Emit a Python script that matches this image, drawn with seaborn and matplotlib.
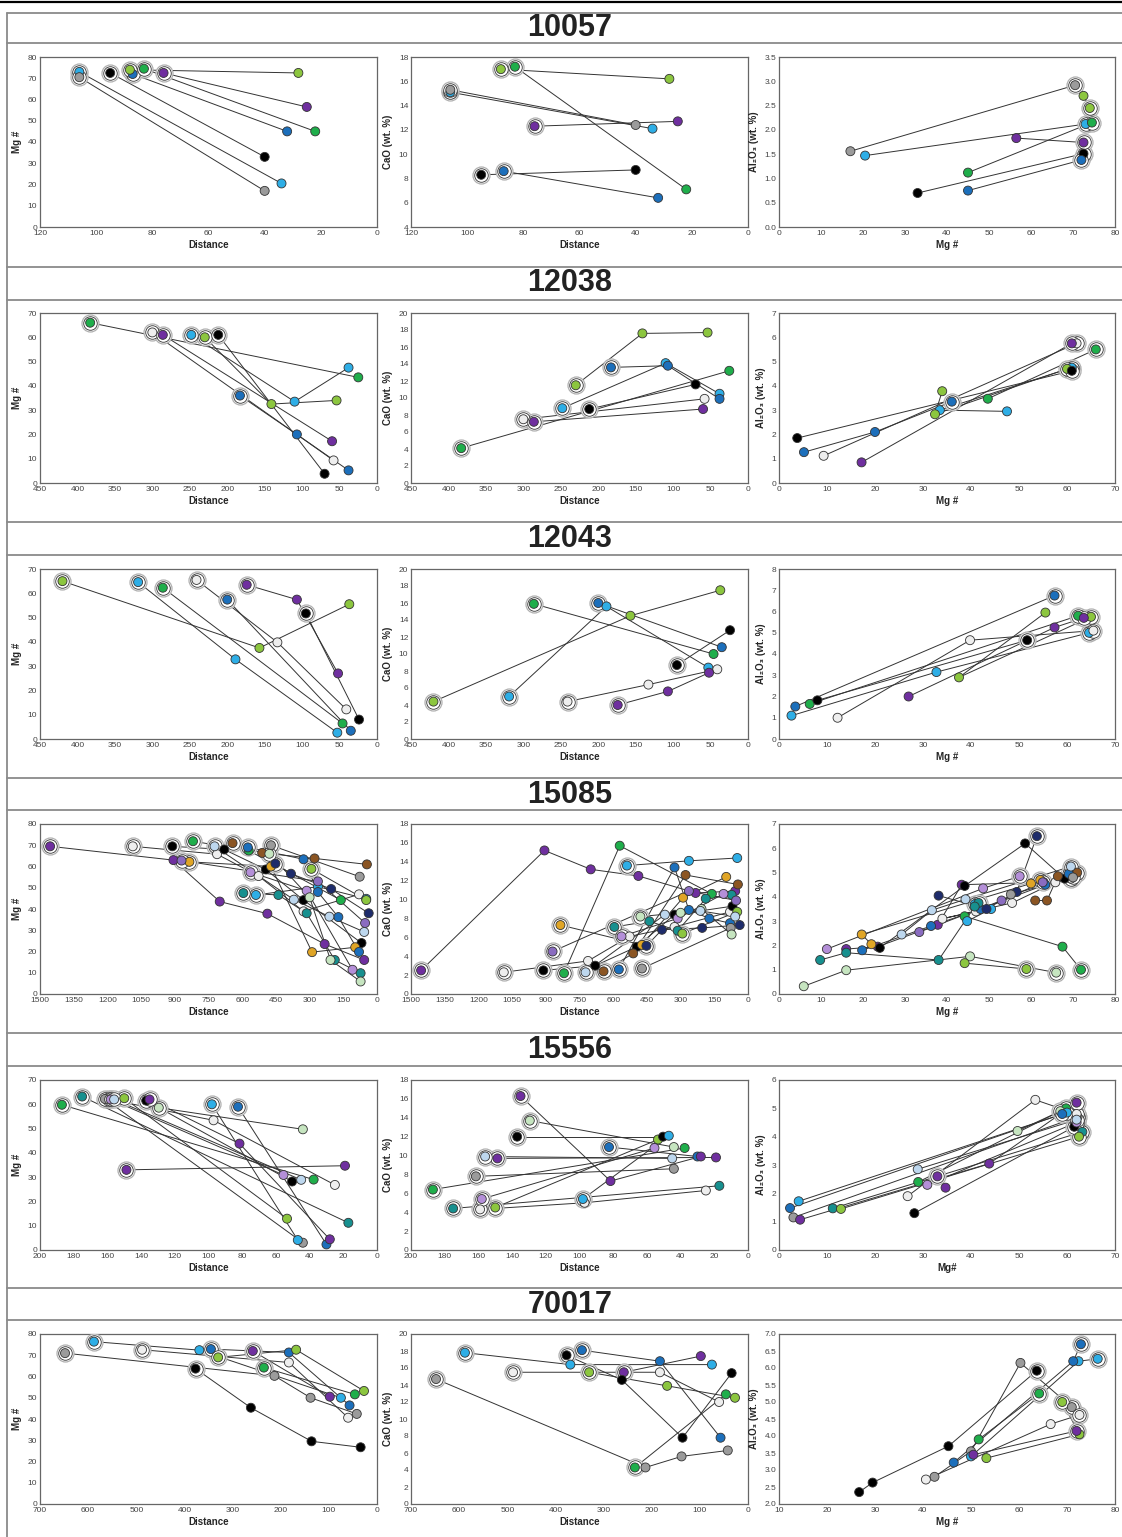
import matplotlib
matplotlib.use("Agg")
import matplotlib.pyplot as plt
from matplotlib.lines import Line2D
from matplotlib.ticker import MultipleLocator, AutoMinorLocator, FormatStrFormatter
import pandas as pd
import seaborn as sns

sns.set_theme(style="white")
plt.rcParams['font.family'] = ['Liberation Sans', 'DejaVu Sans']

PALETTE = {
    'black': '#000000', 'gray': '#9b9b9b', 'white': '#eeeeee',
    'ltblue': '#2eaee6', 'blue': '#1c6fbb', 'green': '#1fae4b',
    'ltgreen': '#8cc63f', 'purple': '#6f2f9f', 'orange': '#e0a526',
    'brown': '#8b5523', 'navy': '#1e2c6b', 'teal': '#17908f',
    'lavender': '#b48fd8', 'mauve': '#8a6cc0', 'paleblue': '#bdd7ee',
    'palegreen': '#c6e5c0',
}

# ---- 10057 : one entry per grain, first point = core ----
S10057_COLOR = ['ltblue', 'gray', 'black', 'blue', 'ltgreen', 'green', 'purple']
S10057_DIST = [[106, 34], [106, 40], [95, 40], [87, 32], [88, 28], [83, 22], [76, 25]]
S10057_MG = [[73, 20.5], [70.5, 17], [72.5, 33], [72, 45], [74, 72.5], [74.5, 45], [72.5, 56.5]]
S10057_CAO = [[15.1, 12.1], [15.3, 12.4], [8.3, 8.7], [8.6, 6.4], [17.0, 16.2], [17.2, 7.1], [12.3, 12.7]]
S10057_AL = [[2.12, 1.47], [2.92, 1.56], [1.51, 0.7], [1.38, 0.75], [2.45, 2.7], [2.15, 1.12], [1.74, 1.83]]

# ---- 12038 ----
S12038_COLOR = ['green', 'white', 'purple', 'ltblue', 'ltgreen', 'black', 'blue']
S12038_DIST = [[383, 25], [300, 58], [286, 60], [248, 110, 38], [230, 141, 54], [212, 70], [183, 107, 38]]
S12038_MG = [[66, 43.5], [62, 9.3], [61, 17.2], [61, 33.5, 47.5], [60, 32.5, 34], [61, 3.8], [36, 20, 5.2]]
S12038_CAO = [[4.1, 13.2], [7.5, 9.9], [7.2, 8.7], [8.8, 14.1, 10.5], [11.5, 17.6, 17.7], [8.7, 11.6], [13.6, 13.8, 9.9]]
S12038_AL = [[5.5, 3.47], [5.75, 1.12], [5.75, 0.85], [4.75, 3.0, 2.95], [4.7, 2.83, 3.78], [4.62, 1.85], [3.35, 2.1, 1.27]]

# ---- 12043 ----
S12043_COLOR = ['ltgreen', 'ltblue', 'green', 'white', 'blue', 'purple', 'black']
S12043_DIST = [[420, 157, 37], [319, 189, 53], [286, 46], [241, 133, 41], [200, 35], [174, 107, 52], [95, 24]]
S12043_MG = [[65, 37.5, 55.5], [64.6, 32.8, 2.6], [62.3, 6.4], [65.5, 39.8, 12.2], [57.4, 3.4], [63.5, 57.4, 27], [51.7, 8]]
S12043_CAO = [[4.4, 14.5, 17.5], [5.0, 15.6, 8.4], [15.9, 10.0], [4.4, 6.4, 8.2], [16.0, 10.8], [4.0, 5.6, 7.8], [8.7, 12.8]]
S12043_AL = [[5.75, 2.9, 5.95], [5.0, 3.15, 1.1], [5.8, 1.65], [5.1, 4.65, 1.0], [6.75, 1.53], [5.7, 5.25, 2.0], [4.65, 1.82]]

# ---- 15085 ----
S15085_COLOR = ['purple', 'white', 'black', 'green', 'ltblue', 'orange', 'brown', 'blue',
                'navy', 'teal', 'lavender', 'mauve', 'gray', 'palegreen', 'ltgreen', 'paleblue']
S15085_DIST = [[1455, 906, 700, 488, 233, 57], [1087, 712, 527, 327, 80], [911, 680, 495, 327, 69],
               [819, 571, 161], [539, 263, 48], [835, 472, 289, 97], [643, 511, 278, 45],
               [575, 327, 263, 172, 80], [452, 383, 204, 37], [595, 439, 313, 188, 73],
               [563, 313, 109], [870, 263, 53], [472, 77], [479, 300, 207, 73], [292, 48],
               [723, 370, 212, 57]]
S15085_MG = [[69.5, 63, 43.5, 37.8, 23.5, 16], [69.5, 65.8, 55.5, 38.9, 46.9], [69.5, 68, 58.6, 44.2, 24],
             [71.9, 67.5, 44.2], [46.6, 50.5, 44.8], [62.2, 60, 19.7, 22], [71, 66.4, 63.8, 61],
             [69, 63.4, 48, 36.2, 19.8], [61.4, 56.6, 49.4, 38], [47.5, 46.6, 38, 16, 9.8],
             [57.3, 48.6, 11.4], [62.8, 53, 33.4], [70, 55.2], [66, 45.5, 16, 5.9], [58.9, 44.2],
             [69.5, 44.4, 36.4, 29.2]]
S15085_CAO = [[2.5, 15.2, 13.2, 12.5, 10.7, 10.9], [2.3, 3.5, 6.1, 7.1, 8.7], [2.5, 3.0, 5.0, 8.4, 9.3],
              [2.2, 15.7, 10.6], [13.6, 14.1, 14.4], [7.3, 5.2, 10.2, 12.4], [2.4, 4.3, 12.6, 11.6],
              [2.6, 13.4, 8.9, 8.0, 7.5], [5.1, 6.8, 7.0, 7.3], [7.1, 7.7, 6.7, 10.1, 10.5],
              [6.1, 8.0, 10.6], [4.5, 10.9, 9.9], [2.7, 7.0], [8.2, 8.6, 9.0, 6.3], [6.4, 8.7],
              [2.3, 8.4, 8.8, 8.2]]
S15085_AL = [[4.8, 4.6, 4.5, 2.85, 1.95, 1.85], [4.75, 4.6, 3.75, 3.1, 3.4], [4.9, 4.75, 6.2, 4.45, 1.9],
             [1.0, 1.95, 3.2], [3.7, 3.5, 3.0], [4.7, 4.55, 2.45, 2.05], [5.0, 4.85, 3.85, 3.85],
             [4.95, 4.5, 3.5, 2.8, 1.8], [6.5, 4.2, 3.5, 4.05], [3.75, 3.6, 1.4, 1.7, 1.4],
             [4.85, 4.35, 1.85], [4.6, 3.85, 2.55], [4.8, 4.1], [0.88, 1.55, 0.98, 0.32], [1.03, 1.27],
             [5.25, 3.9, 3.45, 2.45]]

# ---- 15556 ----
S15556_COLOR = ['green', 'teal', 'gray', 'white', 'ltgreen', 'black', 'palegreen', 'purple',
                'ltblue', 'blue', 'purple', 'lavender', 'paleblue']
S15556_DIST = [[187, 37.6], [175, 17], [161.5, 44], [159, 97, 25], [150, 53.4], [137, 50.4],
               [129.5, 44], [148.7, 19], [98, 47], [82.5, 30], [135, 81.6, 28], [158, 55.5], [156, 45]]
S15556_MG = [[59.8, 29], [63.2, 11.2], [62.2, 3], [62, 53.4, 26.8], [62.5, 12.9], [61.5, 28.2],
             [58.6, 49.7], [33, 34.7], [60, 4.1], [59, 2.3], [62, 43.8, 4.4], [62, 30.9], [62, 28.9]]
S15556_CAO = [[6.4, 10.8], [4.4, 6.8], [7.8, 8.6], [4.3, 5.0, 6.3], [4.5, 11.7], [12.0, 12.0],
              [13.7, 10.9], [9.7, 9.8], [5.4, 12.1], [10.9, 9.9], [16.3, 7.3, 9.9], [5.4, 10.8], [9.9, 9.7]]
S15556_AL = [[5.0, 2.4], [4.17, 1.47], [4.7, 1.15], [4.8, 5.3, 1.9], [4.0, 1.45], [4.35, 1.3],
             [4.9, 4.2], [2.6, 2.2], [4.85, 1.72], [4.8, 1.48], [5.2, 3.05, 1.07], [4.5, 2.3], [4.6, 2.85]]

# ---- 70017 ----
S70017_COLOR = ['gray', 'ltblue', 'white', 'blue', 'ltgreen', 'purple', 'green', 'black']
S70017_DIST = [[648, 213, 138, 42], [588, 369, 75], [488, 183, 60], [345, 183, 57], [330, 168, 27],
               [258, 98], [235, 46], [377, 262, 136, 34]]
S70017_MG = [[71, 60.3, 50, 42.4], [76.4, 72.4, 50], [72.6, 66.6, 40.6], [72.9, 71.3, 46.4],
             [69, 72.6, 53.2], [72, 50.5], [64.2, 51.6], [63.7, 45.3, 29.5, 26.7]]
S70017_CAO = [[14.7, 4.3, 5.6, 6.3], [17.8, 16.4, 16.4], [15.5, 15.5, 12.0], [18.1, 16.8, 7.8],
              [15.5, 13.9, 12.5], [15.5, 17.4], [4.3, 12.9], [17.5, 14.6, 7.8, 15.4]]
S70017_AL = [[4.85, 6.15, 3.55, 2.8], [6.27, 6.2, 3.4], [4.62, 4.35, 2.72], [6.7, 6.2, 3.22],
             [5.0, 4.05, 3.35], [4.15, 3.45], [5.25, 3.9], [5.92, 3.7, 2.63, 2.35]]

SAMPLES = ['10057', '12038', '12043', '15085', '15556', '70017']
SAMPLE_DATA = {
    '10057': (S10057_COLOR, S10057_DIST, S10057_MG, S10057_CAO, S10057_AL),
    '12038': (S12038_COLOR, S12038_DIST, S12038_MG, S12038_CAO, S12038_AL),
    '12043': (S12043_COLOR, S12043_DIST, S12043_MG, S12043_CAO, S12043_AL),
    '15085': (S15085_COLOR, S15085_DIST, S15085_MG, S15085_CAO, S15085_AL),
    '15556': (S15556_COLOR, S15556_DIST, S15556_MG, S15556_CAO, S15556_AL),
    '70017': (S70017_COLOR, S70017_DIST, S70017_MG, S70017_CAO, S70017_AL),
}

# axis settings per sample: (dist max, dist step), (mg lim, step), (cao lim, step), (al lim, step, fmt), (mgx lim, step), mg x-label
AXES = {
    '10057': ((120, 20), (0, 80, 10), (4, 18, 2), (0, 3.5, 0.5, '%.1f'), (0, 80, 10), 'Mg #'),
    '12038': ((450, 50), (0, 70, 10), (0, 20, 2), (0, 7, 1, '%d'), (0, 70, 10), 'Mg #'),
    '12043': ((450, 50), (0, 70, 10), (0, 20, 2), (0, 8, 1, '%d'), (0, 70, 10), 'Mg #'),
    '15085': ((1500, 150), (0, 80, 10), (0, 18, 2), (0, 7, 1, '%d'), (0, 80, 10), 'Mg #'),
    '15556': ((200, 20), (0, 70, 10), (0, 18, 2), (0, 6, 1, '%d'), (0, 70, 10), 'Mg#'),
    '70017': ((700, 100), (0, 80, 10), (0, 20, 2), (2, 7, 0.5, '%.1f'), (10, 80, 10), 'Mg #'),
}

rows = []
for s in SAMPLES:
    cols, dists, mgs, caos, als = SAMPLE_DATA[s]
    for g, c in enumerate(cols):
        for k in range(len(dists[g])):
            rows.append(dict(sample=s, grain=g, step=k, ckey=c, dist=dists[g][k],
                             mg=mgs[g][k], cao=caos[g][k], al=als[g][k], core=(k == 0)))
df = pd.DataFrame(rows)

W, H = 1122, 1537
fig = plt.figure(figsize=(W / 100, H / 100), dpi=100)
fig.patch.set_facecolor('white')

def fx(x):
    return x / W

def fy(y):
    return 1 - y / H

BANDS = [43, 299, 555, 810, 1066, 1320]
TITLE_Y = [28, 283, 539, 795, 1050, 1305]
PANEL_X = [(40, 377), (411, 748), (779, 1115)]
FRAME_GRAY = '#8a8a8a'

# frame and separators
fig.add_artist(Line2D([0, 1], [fy(2), fy(2)], color='black', lw=1.6, transform=fig.transFigure))
for y in [13, 43, 267, 300, 522, 555, 778, 810, 1033, 1066, 1288, 1320]:
    fig.add_artist(Line2D([fx(7), 1], [fy(y), fy(y)], color=FRAME_GRAY, lw=1.3,
                          transform=fig.transFigure))
fig.add_artist(Line2D([fx(7), fx(7)], [fy(13), 0], color=FRAME_GRAY, lw=1.3,
                      transform=fig.transFigure))


def style_axis(ax):
    for sp in ax.spines.values():
        sp.set_color('#666666')
        sp.set_linewidth(0.9)
    ax.tick_params(which='major', direction='in', length=3, width=0.6, labelsize=6,
                   colors='#444444', pad=2)
    ax.tick_params(which='minor', direction='in', length=1.6, width=0.5, colors='#444444')
    ax.xaxis.set_minor_locator(AutoMinorLocator(5))
    ax.yaxis.set_minor_locator(AutoMinorLocator(5))


def draw_traces(ax, d, x, y):
    sns.lineplot(data=d, x=x, y=y, units='grain', estimator=None, sort=False,
                 color='#333333', linewidth=0.7, ax=ax, zorder=2)
    cores = d[d['core']]
    # core marker: light outer halo, thin dark ring, then the coloured dot
    sns.scatterplot(data=cores, x=x, y=y, s=150, color='white', edgecolor='#b0b0b0',
                    linewidth=0.9, ax=ax, zorder=3)
    sns.scatterplot(data=cores, x=x, y=y, s=95, color='white', edgecolor='#333333',
                    linewidth=0.6, ax=ax, zorder=3.5)
    sns.scatterplot(data=d, x=x, y=y, hue='ckey', palette=PALETTE, s=42,
                    edgecolor='#333333', linewidth=0.6, legend=False, ax=ax, zorder=4)


for i, s in enumerate(SAMPLES):
    band = BANDS[i]
    top, bot = band + 14, band + 184
    d = df[df['sample'] == s]
    (dmax, dstep), mgax, caoax, alax, mgxax, mglab = AXES[s]

    fig.text(0.508, fy(TITLE_Y[i]), s, ha='center', va='center', fontsize=22,
             fontweight='bold', color='#222222')

    axes = []
    for (x0, x1) in PANEL_X:
        ax = fig.add_axes([fx(x0), fy(bot), (x1 - x0) / W, (bot - top) / H])
        axes.append(ax)

    # Mg# vs distance
    ax = axes[0]
    draw_traces(ax, d, 'dist', 'mg')
    ax.set_xlim(dmax, 0)
    ax.set_ylim(mgax[0], mgax[1])
    ax.xaxis.set_major_locator(MultipleLocator(dstep))
    ax.yaxis.set_major_locator(MultipleLocator(mgax[2]))
    ax.set_xlabel('Distance', fontsize=7, fontweight='bold', labelpad=2)
    ax.set_ylabel('Mg #', fontsize=7, fontweight='bold', labelpad=4)

    # CaO vs distance
    ax = axes[1]
    draw_traces(ax, d, 'dist', 'cao')
    ax.set_xlim(dmax, 0)
    ax.set_ylim(caoax[0], caoax[1])
    ax.xaxis.set_major_locator(MultipleLocator(dstep))
    ax.yaxis.set_major_locator(MultipleLocator(caoax[2]))
    ax.set_xlabel('Distance', fontsize=7, fontweight='bold', labelpad=2)
    ax.set_ylabel('CaO (wt. %)', fontsize=7, fontweight='bold', labelpad=4)

    # Al2O3 vs Mg#
    ax = axes[2]
    draw_traces(ax, d, 'mg', 'al')
    ax.set_xlim(mgxax[0], mgxax[1])
    ax.set_ylim(alax[0], alax[1])
    ax.xaxis.set_major_locator(MultipleLocator(mgxax[2]))
    ax.yaxis.set_major_locator(MultipleLocator(alax[2]))
    ax.yaxis.set_major_formatter(FormatStrFormatter(alax[3]))
    ax.set_xlabel(mglab, fontsize=7, fontweight='bold', labelpad=2)
    ax.set_ylabel('Al\u2082O\u2083 (wt. %)', fontsize=7, fontweight='bold', labelpad=4)

    for ax in axes:
        style_axis(ax)
        ax.set_facecolor('white')

fig.savefig('out.png', dpi=100, facecolor='white')
